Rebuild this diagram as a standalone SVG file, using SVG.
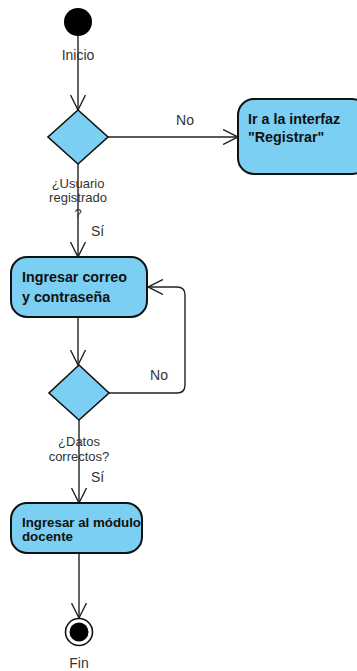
<svg xmlns="http://www.w3.org/2000/svg" width="357" height="671" viewBox="0 0 357 671">
  <style>
    .act { fill: #7ACFF2; stroke: #111; stroke-width: 2; }
    .dec { fill: #7ACFF2; stroke: #111; stroke-width: 1.6; }
    .flow { fill: none; stroke: #222; stroke-width: 1.4; marker-end: url(#open); }
    .lbl { font-family: "Liberation Sans", Arial, sans-serif; font-size: 14px; fill: #333; }
    .small { font-family: "Liberation Sans", Arial, sans-serif; font-size: 13px; fill: #333; }
    .bold { font-family: "Liberation Sans", Arial, sans-serif; font-size: 14.3px; font-weight: bold; fill: #111; }
    .bold12 { font-family: "Liberation Sans", Arial, sans-serif; font-size: 13.3px; font-weight: bold; fill: #111; }
  </style>
  <defs>
    <marker id="open" viewBox="0 0 16 16" markerWidth="16" markerHeight="16" refX="15" refY="8" orient="auto" markerUnits="userSpaceOnUse">
      <path d="M0,0.5 L15,8 L0,15.5" fill="none" stroke="#222" stroke-width="1.4"/>
    </marker>
  </defs>

  <!-- control flows -->
  <g id="connectors">
    <path class="flow" d="M78,36 L78,110"/>
    <path class="flow" d="M108,137 L238,137"/>
    <path class="flow" d="M78,164 L78,257"/>
    <path class="flow" d="M78,317 L78,365"/>
    <path class="flow" d="M109,393 L177,393 Q185,393 185,385 L185,295 Q185,287 177,287 L148,287"/>
    <path class="flow" d="M79,420 L79,503"/>
    <path class="flow" d="M79,553 L79,618"/>
    <text class="lbl" x="185" y="125" text-anchor="middle">No</text>
    <text class="lbl" x="91" y="236">Sí</text>
    <text class="lbl" x="159" y="380" text-anchor="middle">No</text>
    <text class="lbl" x="91" y="482">Sí</text>
  </g>

  <g id="start">
    <circle cx="78" cy="22" r="14" fill="#000"/>
    <text class="lbl" x="78" y="60" text-anchor="middle">Inicio</text>
  </g>

  <g id="decision-usuario">
    <polygon class="dec" points="78,110 108,137 78,164 48,137"/>
    <text class="small" x="78" y="188" text-anchor="middle">¿Usuario</text>
    <text class="small" x="78" y="202" text-anchor="middle">registrado</text>
    <text class="small" x="78" y="218" text-anchor="middle">?</text>
  </g>

  <g id="registrar">
    <rect class="act" x="238" y="99" width="130" height="75" rx="16"/>
    <text class="bold" x="248" y="124">Ir a la interfaz</text>
    <text class="bold" x="248" y="142">"Registrar"</text>
  </g>

  <g id="ingresar-correo">
    <rect class="act" x="11" y="257" width="136" height="60" rx="16"/>
    <text class="bold" x="22" y="282">Ingresar correo</text>
    <text class="bold" x="22" y="302">y contraseña</text>
  </g>

  <g id="decision-datos">
    <polygon class="dec" points="79,365 109,393 79,420 49,393"/>
    <text class="small" x="79" y="446" text-anchor="middle">¿Datos</text>
    <text class="small" x="79" y="461" text-anchor="middle">correctos?</text>
  </g>

  <g id="ingresar-modulo">
    <rect class="act" x="11" y="503" width="131" height="50" rx="16"/>
    <text class="bold12" x="22" y="527">Ingresar al módulo</text>
    <text class="bold12" x="22" y="541">docente</text>
  </g>

  <g id="end">
    <circle cx="79" cy="632" r="13.5" fill="#fff" stroke="#111" stroke-width="1.6"/>
    <circle cx="79" cy="632" r="9.5" fill="#000"/>
    <text class="lbl" x="79" y="668" text-anchor="middle">Fin</text>
  </g>
</svg>
